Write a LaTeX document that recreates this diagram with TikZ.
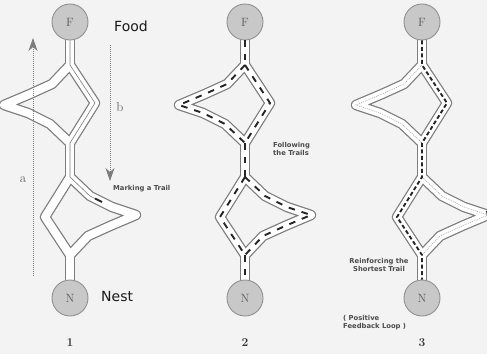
\documentclass[tikz,border=0pt]{standalone}
\usepackage{fontspec}
\setsansfont{DejaVu Sans}
\usetikzlibrary{arrows.meta}
\definecolor{bggray}{RGB}{243,243,243}
\definecolor{linegray}{RGB}{125,125,125}
\definecolor{circgray}{RGB}{200,200,200}
\tikzset{
  bandout/.style={draw=linegray, line width=10.5pt, line join=round},
  bandin/.style={draw=white, line width=8pt, line join=round},
  placenode/.style={circle, draw=linegray!85, fill=circgray, line width=0.9pt,
    minimum size=36pt, inner sep=0pt, font=\rmfamily\large, text=black!65},
  antmark/.style={draw=black!85, line width=1.9pt, dash pattern=on 6.5pt off 7pt},
  strongmark/.style={draw=black!85, line width=1.9pt, dash pattern=on 4pt off 2.5pt},
  weakmark/.style={draw=linegray!70, line width=0.6pt, dash pattern=on 1pt off 1pt},
  thinmark/.style={draw=linegray, line width=0.6pt},
  walkarrow/.style={draw=linegray, line width=0.8pt, dash pattern=on 1pt off 1pt,
    -{Stealth[length=13pt, width=9pt, inset=4pt]}},
  tinylabel/.style={font=\sffamily\bfseries\fontsize{6.8}{8}\selectfont, text=black!70, inner sep=0pt},
  biglabel/.style={font=\sffamily\fontsize{14}{16}\selectfont, text=black!90, anchor=west, inner sep=0pt},
  panelnum/.style={font=\rmfamily\bfseries\fontsize{12}{14}\selectfont, text=black!80}
}
% one trail network, centred on x=0, drawn with the given style
\newcommand\trailnet[1]{%
  \draw[#1] (0,40) -- (0,65);
  \draw[#1] (0,65) -- (25,103) -- (0,143);
  \draw[#1] (0,65) -- (-18,84) -- (-40,94) -- (-66,105) -- (-42,113) -- (-20,124) -- (0,143);
  \draw[#1] (0,143) -- (0,177);
  \draw[#1] (0,177) -- (20,196) -- (42,207) -- (66,215) -- (40,226) -- (18,236) -- (0,255);
  \draw[#1] (0,177) -- (-25,217) -- (0,255);
  \draw[#1] (0,255) -- (0,280);
}
\begin{document}
\begin{tikzpicture}[x=1pt, y=-1pt]
  \fill[bggray] (0,0) rectangle (487,354);
  \useasboundingbox (0,0) rectangle (487,354);

  % the three trail networks
  \foreach \cx/\i in {70/1, 245/2, 422/3}{
    \begin{scope}[xshift=\cx pt]
      \trailnet{bandout}
      \trailnet{bandin}
      \node[placenode] (food\i) at (0,22) {F};
      \node[placenode] (nest\i) at (0,298) {N};
      \node[panelnum] (num\i) at (0,343) {\i};
    \end{scope}
  }

  % 1: first ant marking a trail
  \begin{scope}[xshift=70pt]
    \draw[thinmark] (food1.south) -- (0,65) -- (25,103) -- (0,143) -- (0,177) -- (20,196) -- (25,198.5);
    \draw[draw=black!85, line width=2pt] (25,198.5) -- (32,202);
  \end{scope}
  \draw[walkarrow] (33,276) -- (33,38);
  \draw[walkarrow] (110,45) -- (110,181);
  \node[font=\rmfamily\fontsize{13}{15}\selectfont, text=black!60] (walka) at (23,180) {a};
  \node[font=\rmfamily\fontsize{13}{15}\selectfont, text=black!60] (walkb) at (120,107) {b};
  \node[biglabel] (foodlbl) at (114,26) {Food};
  \node[biglabel] (nestlbl) at (101,296) {Nest};
  \node[tinylabel, anchor=west] (marklbl) at (113,189) {Marking a Trail};

  % 2: following the trails
  \begin{scope}[xshift=245pt]
    \trailnet{antmark}
  \end{scope}
  \node[tinylabel, anchor=west, align=left] (followlbl) at (273,149) {Following\\the Trails};

  % 3: shortest trail reinforced
  \begin{scope}[xshift=422pt]
    \draw[weakmark] (0,65) -- (-18,84) -- (-40,94) -- (-66,105) -- (-42,113) -- (-20,124) -- (0,143);
    \draw[weakmark] (0,177) -- (20,196) -- (42,207) -- (66,215) -- (40,226) -- (18,236) -- (0,255);
    \draw[strongmark] (food3.south) -- (0,65) -- (25,103) -- (0,143) -- (0,177) -- (-25,217) -- (0,255) -- (nest3.north);
    \draw[draw=black!85, line width=1.9pt] (65,211) -- (66.5,219);
  \end{scope}
  \node[tinylabel, align=center] (reinflbl) at (379,265) {Reinforcing the\\Shortest Trail};
  \node[tinylabel, anchor=west, align=left] (looplbl) at (343,323) {( Positive\\Feedback Loop )};
\end{tikzpicture}
\end{document}
